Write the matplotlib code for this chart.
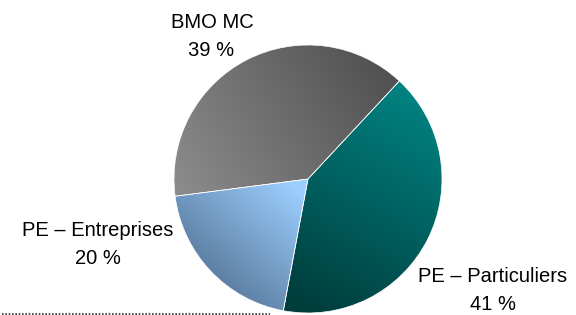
import numpy as np
import matplotlib
matplotlib.use("Agg")
import matplotlib.pyplot as plt
from matplotlib.colors import to_rgb

labels = ["PE \u2013 Particuliers", "PE \u2013 Entreprises", "BMO MC"]
values = [41, 20, 39]
pct_labels = ["41 %", "20 %", "39 %"]

W, H = 576, 315
fig = plt.figure(figsize=(W / 100, H / 100), dpi=100)
ax = fig.add_axes([0, 0, 1, 1])

cx, cy, r = 308, H - 179, 134
wedges, _ = ax.pie(values, startangle=47, counterclock=False, radius=r,
                   center=(cx, cy), frame=True,
                   wedgeprops=dict(linewidth=0.5, edgecolor="white"))
ax.set_xlim(0, W)
ax.set_ylim(0, H)
ax.set_aspect("equal")
ax.axis("off")

# gradient specs: (light colour, dark colour, light point, dark point) in pixel coords (y down)
grads = [
    ("#008482", "#003d3d", (420, 90), (300, 305)),
    ("#9ccfff", "#4f6d8e", (300, 190), (200, 300)),
    ("#8c8c8c", "#515151", (180, 200), (390, 75)),
]
xs = np.linspace(0, W, W)
ys = np.linspace(H, 0, H)
X, Y = np.meshgrid(xs, ys)
for w, (cl, cd, pl, pd) in zip(wedges, grads):
    w.set_facecolor("none")
    lx, ly = pl[0], H - pl[1]
    dx, dy = pd[0], H - pd[1]
    vx, vy = dx - lx, dy - ly
    t = ((X - lx) * vx + (Y - ly) * vy) / (vx * vx + vy * vy)
    t = np.clip(t, 0, 1)[..., None]
    img = (1 - t) * np.array(to_rgb(cl)) + t * np.array(to_rgb(cd))
    im = ax.imshow(img, extent=(0, W, 0, H), origin="upper", zorder=1,
                   interpolation="bilinear")
    im.set_clip_path(w)
    w.set_zorder(2)

font = dict(family=["Liberation Sans", "DejaVu Sans"], fontsize=14.5, color="black")
ax.text(212, H - 22.5, labels[2], ha="center", va="center", **font)
ax.text(211, H - 50.5, pct_labels[2], ha="center", va="center", **font)
ax.text(98, H - 230.5, labels[1], ha="center", va="center", **font)
ax.text(98, H - 259, pct_labels[1], ha="center", va="center", **font)
ax.text(493, H - 276, labels[0], ha="center", va="center", **font)
ax.text(493, H - 304.5, pct_labels[0], ha="center", va="center", **font)

ax.plot([2, 270], [H - 313.5, H - 313.5], color="#333333", linestyle=(0, (1, 1)),
        linewidth=1.2, zorder=3)

fig.savefig("out.png", dpi=100)
